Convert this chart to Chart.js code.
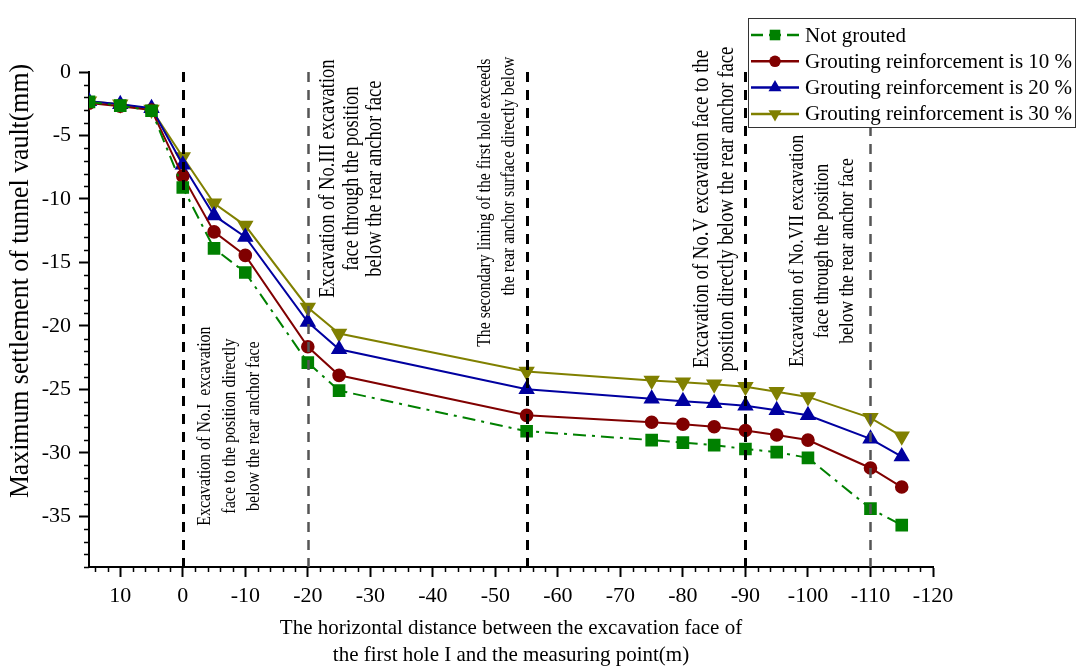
<!DOCTYPE html>
<html>
<head>
<meta charset="utf-8">
<script src="https://cdn.jsdelivr.net/npm/chart.js@4/dist/chart.umd.min.js"></script>
<style>
  body { margin: 0; background: #fff; }
</style>
</head>
<body>
<canvas id="myChart" width="1077" height="669"></canvas>
<script>
// distance from excavation face (m)
const xValues = [15, 10, 5, 0, -5, -10, -20, -25, -55, -75, -80, -85, -90, -95, -100, -110, -115]
// settlement (mm)
const notGrouted = [-2.35, -2.65, -3.05, -9.1, -13.9, -15.8, -22.9, -25.1, -28.3, -29.0, -29.2, -29.4, -29.7, -29.95, -30.4, -34.4, -35.7]
const grout10 = [-2.45, -2.7, -3.0, -8.2, -12.6, -14.45, -21.65, -23.9, -27.05, -27.6, -27.75, -27.95, -28.25, -28.6, -29.0, -31.2, -32.7]
const grout20 = [-2.3, -2.55, -2.85, -7.3, -11.3, -13.0, -19.7, -21.85, -25.0, -25.75, -25.95, -26.1, -26.3, -26.65, -27.05, -28.9, -30.3]
const grout30 = [-2.3, -2.55, -2.95, -6.7, -10.35, -12.1, -18.55, -20.6, -23.6, -24.3, -24.45, -24.6, -24.8, -25.2, -25.6, -27.25, -28.7]

const xTicks = [10, 0, -10, -20, -30, -40, -50, -60, -70, -80, -90, -100, -110, -120]
const yTicks = [0, -5, -10, -15, -20, -25, -30, -35]

const yTitle = 'Maximum settlement of tunnel vault(mm)'

// excavation stages (vertical dashed lines)
const stageX = [0, -20, -55, -90, -110]
const stageColor = ['#000', '#555', '#000', '#000', '#555']

const notes = [
    { xs: [-3.6, -7.6, -11.4], ys: [-27.9, -27.9, -27.9], size: 16,
      lines: ['Excavation of No.I  excavation', 'face to the position directly', 'below the rear anchor face'] },
    { xs: [-23.3, -27.1, -30.8], ys: [-8.4, -8.4, -8.4], size: 18.5,
      lines: ['Excavation of No.III excavation', 'face through the position', 'below the rear anchor face'] },
    { xs: [-48.4, -52.1], ys: [-10.3, -8.2], size: 15.8,
      lines: ['The secondary lining of the first hole exceeds', 'the rear anchor surface directly below'] },
    { xs: [-83.1, -87.1], ys: [-10.8, -10.8], size: 18.7,
      lines: ['Excavation of No.V excavation face to the', 'position directly below the rear anchor face'] },
    { xs: [-98.3, -102.3, -106.3], ys: [-14.1, -14.1, -14.1], size: 17.5,
      lines: ['Excavation of No.VII excavation', 'face through the position', 'below the rear anchor face'] }
]

const serif = 'Liberation Serif'

function toPoints(ys) {
    return xValues.map((x, i) => ({ x: x, y: ys[i] }))
}

function drawMarker(ctx, style, rot, r, x, y, color) {
    ctx.save()
    ctx.fillStyle = color
    ctx.translate(x, y)
    ctx.rotate(rot * Math.PI / 180)
    ctx.beginPath()
    if (style == 'rect') {
        const s = r * Math.SQRT1_2
        ctx.rect(-s, -s, 2 * s, 2 * s)
    } else if (style == 'circle') {
        ctx.arc(0, 0, r, 0, Math.PI * 2)
    } else {
        ctx.moveTo(0, -r)
        ctx.lineTo(r * 0.866, r * 0.5)
        ctx.lineTo(-r * 0.866, r * 0.5)
        ctx.closePath()
    }
    ctx.fill()
    ctx.restore()
}

// rotated text, glyphs a bit taller like the original scan
function upText(ctx, t, x, y, size, stretch) {
    ctx.save()
    ctx.translate(x, y)
    ctx.rotate(-Math.PI / 2)
    ctx.scale(1, stretch)
    ctx.font = size + 'px "' + serif + '"'
    ctx.fillStyle = '#000'
    ctx.textAlign = 'center'
    ctx.textBaseline = 'middle'
    ctx.fillText(t, 0, 0)
    ctx.restore()
}

const extras = {
    id: 'extras',
    afterDatasetsDraw(chart) {
        const ctx = chart.ctx
        const xs = chart.scales.x, ys = chart.scales.y
        const area = chart.chartArea
        // stage lines
        stageX.forEach((v, i) => {
            const px = Math.round(xs.getPixelForValue(v)) + 0.5
            ctx.save()
            ctx.strokeStyle = stageColor[i]
            ctx.lineWidth = stageColor[i] == '#000' ? 3 : 2.5
            ctx.setLineDash([10, 8])
            ctx.beginPath()
            ctx.moveTo(px, area.top)
            ctx.lineTo(px, area.bottom)
            ctx.stroke()
            ctx.restore()
        })
        // rotated notes
        notes.forEach(n => {
            n.lines.forEach((t, i) => {
                upText(ctx, t, xs.getPixelForValue(n.xs[i]), ys.getPixelForValue(n.ys[i]), n.size, 1.22)
            })
        })
    },
    afterDraw(chart) {
        const ctx = chart.ctx
        const xs = chart.scales.x, ys = chart.scales.y
        const area = chart.chartArea
        // minor ticks
        ctx.save()
        ctx.strokeStyle = '#000'
        ctx.lineWidth = 1.5
        ctx.beginPath()
        for (let v = 14; v >= -120; v -= 2) {
            if (v % 10 == 0) continue
            const px = Math.round(xs.getPixelForValue(v)) + 0.5
            ctx.moveTo(px, area.bottom)
            ctx.lineTo(px, area.bottom + 5)
        }
        for (let v = -1; v >= -39; v -= 1) {
            if (v % 5 == 0) continue
            const py = Math.round(ys.getPixelForValue(v)) + 0.5
            ctx.moveTo(area.left, py)
            ctx.lineTo(area.left - 5, py)
        }
        ctx.stroke()
        ctx.restore()

        // y axis title
        upText(ctx, yTitle, 21, 281, 25.8, 1.05)

        // legend box
        const bx = 748, by = 18, bw = 327, bh = 109
        ctx.save()
        ctx.fillStyle = '#fff'
        ctx.fillRect(bx, by, bw, bh)
        ctx.strokeStyle = '#333'
        ctx.lineWidth = 1
        ctx.strokeRect(bx + 0.5, by + 0.5, bw, bh)
        ctx.font = '21px "' + serif + '"'
        ctx.textBaseline = 'middle'
        chart.data.datasets.forEach((ds, i) => {
            const ry = 35 + i * 26.3
            ctx.strokeStyle = ds.borderColor
            ctx.lineWidth = 2.5
            ctx.setLineDash(i == 0 ? [12, 6] : [])
            ctx.beginPath()
            ctx.moveTo(751, ry)
            ctx.lineTo(799, ry)
            ctx.stroke()
            ctx.setLineDash([])
            drawMarker(ctx, ds.pointStyle, ds.pointRotation || 0, ds.pointRadius, 775, ry, ds.borderColor)
            ctx.fillStyle = '#000'
            ctx.fillText(ds.label, 805, ry + 1)
        })
        ctx.restore()
    }
}

const ctx = document.getElementById('myChart').getContext('2d');
new Chart(ctx, {
    type: 'line',
    data: {
        datasets: [{
            label: 'Not grouted',
            data: toPoints(notGrouted),
            borderColor: '#008000',
            backgroundColor: '#008000',
            borderDash: [13, 6, 3, 6],
            pointStyle: 'rect',
            pointRadius: 7.5,
            borderWidth: 2
        }, {
            label: 'Grouting reinforcement is 10 %',
            data: toPoints(grout10),
            borderColor: '#800000',
            backgroundColor: '#800000',
            pointStyle: 'circle',
            pointRadius: 5.8,
            borderWidth: 2
        }, {
            label: 'Grouting reinforcement is 20 %',
            data: toPoints(grout20),
            borderColor: '#0000a0',
            backgroundColor: '#0000a0',
            pointStyle: 'triangle',
            pointRadius: 7.5,
            borderWidth: 2
        }, {
            label: 'Grouting reinforcement is 30 %',
            data: toPoints(grout30),
            borderColor: '#808000',
            backgroundColor: '#808000',
            pointStyle: 'triangle',
            pointRotation: 180,
            pointRadius: 7.5,
            borderWidth: 2
        }]
    },
    options: {
        responsive: false,
        animation: false,
        layout: { padding: { top: 72, right: 144, left: 0, bottom: 0 } },
        plugins: {
            legend: { display: false },
            tooltip: { enabled: false }
        },
        scales: {
            x: {
                type: 'linear',
                reverse: true,
                min: -120,
                max: 15,
                afterBuildTicks: s => { s.ticks = xTicks.map(v => ({ value: v })) },
                afterFit: s => { s.height = 102 },
                grid: { drawOnChartArea: false, tickLength: 10, tickColor: '#000', tickWidth: 2 },
                border: { color: '#000', width: 2 },
                ticks: { color: '#000', font: { family: serif, size: 22 }, padding: 6, maxRotation: 0, autoSkip: false },
                title: {
                    display: true,
                    text: ['The horizontal distance between the excavation face of', 'the first hole I and the measuring point(m)'],
                    color: '#000',
                    font: { family: serif, size: 21, lineHeight: 1.3 },
                    padding: 0
                }
            },
            y: {
                min: -39,
                max: 0,
                afterBuildTicks: s => { s.ticks = yTicks.map(v => ({ value: v })) },
                afterFit: s => { s.width = 89 },
                grid: { drawOnChartArea: false, tickLength: 10, tickColor: '#000', tickWidth: 2 },
                border: { color: '#000', width: 2 },
                ticks: { color: '#000', font: { family: serif, size: 22 }, padding: 8 }
            }
        }
    },
    plugins: [extras]
})
</script>
</body>
</html>
